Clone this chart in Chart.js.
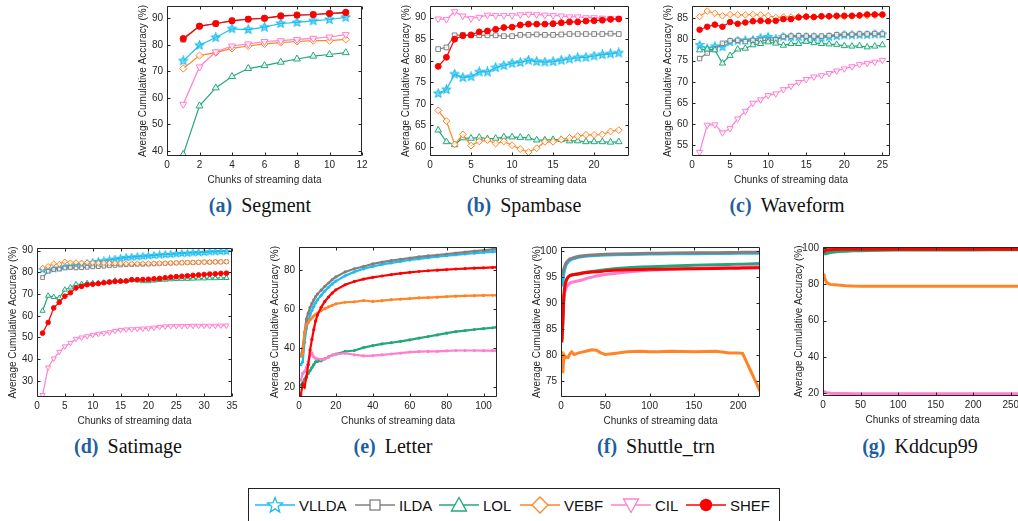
<!DOCTYPE html>
<html>
<head>
<meta charset="utf-8">
<script src="https://cdn.jsdelivr.net/npm/chart.js@4.4.1/dist/chart.umd.min.js"></script>
<style>
  html, body { margin: 0; padding: 0; background: #fff; }
  body { width: 1018px; height: 521px; overflow: hidden; position: relative; }
  canvas { position: absolute; }
  .cap { position: absolute; font-family: "Liberation Serif", "Times New Roman", serif; font-size: 20px; line-height: 24px; color: #111; white-space: nowrap; transform: translateX(-50%); }
  .cap b { color: #1f5f9f; margin-right: 9px; }
  #legend { position: absolute; left: 248px; top: 488px; width: 532px; height: 34px; border: 1px solid #222; box-sizing: border-box; font-family: "Liberation Sans", Arial, sans-serif; font-size: 15px; color: #111; }
  #legend .item { position: absolute; top: 6px; height: 20px; display: flex; align-items: center; }
  #legend svg { display: block; }
  #legend span { margin-left: 4px; }
</style>
</head>
<body>
<div id="legend"></div>
<script>
// ---- series names / colours ----
const methods = ["VLLDA", "ILDA", "LOL", "VEBF", "CIL", "SHEF"];
const colors = ["#1CBDF0", "#808080", "#22A878", "#FF8426", "#FF7FCF", "#FF0000"];

// ---- (a) Segment ----
const segChunks = [1, 2, 3, 4, 5, 6, 7, 8, 9, 10, 11];
const segVLLDA = [74.0, 79.9, 82.8, 86.1, 85.8, 86.7, 88.1, 88.5, 89.1, 89.6, 90.4];
const segILDA  = [82.0, 87.0, 88.0, 89.2, 89.8, 90.0, 90.8, 91.2, 91.4, 91.8, 92.0];
const segLOL   = [38.7, 57.0, 63.8, 68.1, 71.1, 72.2, 73.5, 74.7, 75.8, 76.4, 77.1];
const segVEBF  = [71.1, 76.0, 77.1, 78.7, 79.6, 80.4, 80.9, 81.3, 81.6, 81.6, 82.1];
const segCIL   = [57.6, 71.7, 77.4, 79.6, 80.4, 81.3, 81.6, 82.1, 82.5, 83.0, 83.9];
const segSHEF  = [82.4, 87.1, 88.1, 89.1, 89.7, 90.1, 91.0, 91.3, 91.5, 91.9, 92.3];
const segXTicks = [0, 2, 4, 6, 8, 10, 12];
const segYTicks = [40, 50, 60, 70, 80, 90];

// ---- (b) Spambase ----
const spamChunks = [1, 2, 3, 4, 5, 6, 7, 8, 9, 10, 11, 12, 13, 14, 15, 16, 17, 18, 19, 20, 21, 22, 23];
const spamVLLDA = [72.4, 73.3, 76.9, 76.1, 76.3, 77.4, 77.4, 78.4, 78.9, 79.4, 79.6, 80.1, 79.8, 79.7, 79.8, 80.1, 80.4, 80.7, 80.8, 81.1, 81.4, 81.6, 81.8];
const spamILDA  = [82.7, 83.1, 85.9, 86.0, 85.9, 85.9, 85.9, 85.9, 85.7, 85.7, 86.0, 86.0, 86.1, 86.0, 86.0, 86.1, 86.2, 86.2, 86.2, 86.2, 86.2, 86.3, 86.2];
const spamLOL   = [63.9, 61.2, 60.5, 62.1, 62.0, 62.2, 61.9, 62.0, 62.3, 62.3, 62.2, 62.1, 61.6, 61.6, 61.7, 61.7, 61.4, 61.4, 61.2, 61.2, 61.2, 61.1, 61.2];
const spamVEBF  = [68.5, 66.0, 60.6, 62.9, 60.3, 61.3, 61.6, 60.8, 61.3, 60.4, 59.5, 58.8, 59.7, 61.2, 61.2, 61.7, 62.1, 62.5, 62.8, 62.8, 62.9, 63.6, 63.9];
const spamCIL   = [89.7, 89.6, 91.4, 90.4, 89.8, 90.1, 90.6, 90.5, 90.5, 90.5, 90.7, 90.8, 90.7, 90.6, 90.5, 90.4, 90.2, 90.2, 90.0, 90.0, 89.9, 89.8, 89.8];
const spamSHEF  = [78.7, 80.8, 85.0, 85.8, 86.0, 86.7, 86.9, 87.3, 87.7, 87.8, 88.3, 88.5, 88.5, 88.5, 88.6, 88.8, 89.0, 89.0, 89.2, 89.3, 89.4, 89.6, 89.7];
const spamXTicks = [0, 5, 10, 15, 20];
const spamYTicks = [60, 65, 70, 75, 80, 85, 90];

// ---- (c) Waveform ----
const waveChunks = [1, 2, 3, 4, 5, 6, 7, 8, 9, 10, 11, 12, 13, 14, 15, 16, 17, 18, 19, 20, 21, 22, 23, 24, 25];
const waveVLLDA = [78.7, 77.9, 78.4, 78.2, 79.4, 79.7, 79.8, 79.9, 80.4, 80.6, 80.2, 80.6, 80.6, 80.6, 80.6, 80.5, 80.4, 80.6, 80.8, 81.0, 81.0, 81.1, 81.1, 81.2, 81.2];
const waveILDA  = [75.5, 76.8, 77.7, 79.1, 79.7, 79.8, 79.5, 79.8, 79.8, 79.8, 79.9, 80.7, 80.8, 80.9, 80.8, 80.8, 80.8, 80.9, 81.1, 81.2, 81.2, 81.3, 81.3, 81.4, 81.3];
const waveLOL   = [77.5, 77.7, 77.5, 74.4, 76.2, 77.7, 77.9, 78.7, 79.0, 79.4, 79.1, 78.6, 79.0, 79.0, 79.5, 79.2, 79.0, 78.9, 78.8, 78.5, 78.4, 78.5, 78.2, 78.4, 78.7];
const waveVEBF  = [85.4, 86.7, 86.2, 85.6, 85.9, 85.8, 85.8, 85.9, 85.8, 85.6, 85.2, 85.3, 85.3, 85.4, 85.4, 85.3, 85.4, 85.4, 85.4, 85.4, 85.5, 85.6, 85.6, 85.7, 85.7];
const waveCIL   = [53.4, 59.8, 59.9, 58.0, 59.0, 61.3, 63.1, 65.0, 65.8, 66.8, 67.2, 68.2, 69.0, 69.9, 70.6, 71.2, 71.5, 72.0, 72.6, 73.1, 73.6, 74.1, 74.4, 74.7, 75.1];
const waveSHEF  = [82.3, 83.0, 83.5, 83.0, 84.1, 83.7, 84.0, 84.3, 84.4, 84.3, 84.4, 84.8, 84.8, 85.2, 85.4, 85.3, 85.5, 85.5, 85.6, 85.6, 85.6, 85.7, 85.9, 85.9, 85.9];
const waveXTicks = [0, 5, 10, 15, 20, 25];
const waveYTicks = [55, 60, 65, 70, 75, 80, 85];

// ---- (d) Satimage ----
const satChunks = [1, 2, 3, 4, 5, 6, 7, 8, 9, 10, 11, 12, 13, 14, 15, 16, 17, 18, 19, 20, 21, 22, 23, 24, 25, 26, 27, 28, 29, 30, 31, 32, 33, 34];
const satVLLDA = [81.2, 81.0, 81.6, 82.0, 82.6, 83.0, 83.4, 83.8, 84.2, 84.6, 85.0, 85.3, 85.7, 86.1, 86.5, 86.8, 87.0, 87.2, 87.4, 87.6, 87.8, 88.0, 88.2, 88.3, 88.5, 88.7, 88.8, 89.0, 89.1, 89.2, 89.4, 89.5, 89.6, 89.7];
const satILDA  = [77.6, 80.5, 81.3, 81.5, 82.0, 82.2, 82.0, 82.1, 82.3, 82.5, 82.6, 82.8, 83.0, 83.2, 83.4, 83.5, 83.6, 83.7, 83.7, 83.8, 83.9, 84.0, 84.1, 84.2, 84.3, 84.4, 84.5, 84.5, 84.6, 84.7, 84.7, 84.8, 84.8, 84.9];
const satLOL   = [62.3, 69.2, 68.6, 68.2, 72.0, 73.0, 74.5, 74.6, 75.0, 75.0, 75.1, 75.3, 75.5, 76.2, 76.0, 76.0, 76.4, 76.3, 75.9, 75.9, 76.2, 76.5, 76.6, 76.8, 76.9, 77.0, 77.0, 77.1, 77.2, 77.2, 77.3, 77.3, 77.4, 77.4];
const satVEBF  = [82.0, 82.8, 84.0, 83.8, 84.9, 84.5, 84.6, 84.4, 84.5, 84.4, 84.3, 84.3, 84.2, 84.2, 84.1, 84.0, 84.0, 84.0, 84.1, 84.1, 84.1, 84.2, 84.2, 84.3, 84.4, 84.4, 84.5, 84.5, 84.6, 84.7, 84.7, 84.8, 84.8, 84.9];
const satCIL   = [23.5, 36.2, 40.3, 43.4, 45.9, 47.5, 49.4, 50.0, 50.6, 51.2, 51.7, 52.0, 52.4, 53.0, 53.5, 53.7, 53.8, 54.0, 54.1, 54.2, 54.5, 54.9, 55.1, 55.2, 55.3, 55.3, 55.3, 55.4, 55.4, 55.4, 55.4, 55.4, 55.5, 55.5];
const satSHEF  = [52.0, 56.9, 63.6, 66.2, 69.0, 70.6, 72.8, 73.5, 74.3, 74.5, 74.8, 75.2, 75.5, 75.8, 75.9, 76.0, 76.6, 76.6, 76.7, 76.8, 77.0, 77.2, 77.5, 77.8, 78.0, 78.2, 78.4, 78.6, 78.8, 79.0, 79.2, 79.3, 79.5, 79.6];
const satXTicks = [0, 5, 10, 15, 20, 25, 30, 35];
const satYTicks = [30, 40, 50, 60, 70, 80, 90];

// ---- (e) Letter (read at these chunks) ----
const letChunks = [1, 2, 3, 4, 5, 6, 7, 8, 9, 10, 12, 14, 16, 18, 20, 25, 30, 35, 40, 45, 50, 55, 60, 65, 70, 75, 80, 85, 90, 95, 100, 105, 107];
const letVLLDA = [31.5, 33.0, 43.0, 50.0, 54.0, 57.0, 59.5, 61.5, 63.3, 64.8, 67.2, 69.4, 71.3, 73.0, 74.5, 77.2, 79.2, 80.8, 82.0, 83.0, 83.8, 84.6, 85.3, 85.9, 86.5, 87.0, 87.5, 88.0, 88.4, 88.8, 89.2, 89.5, 89.7];
const letILDA  = [36.0, 40.0, 48.0, 55.0, 58.0, 61.0, 63.0, 64.8, 66.5, 67.8, 69.8, 71.8, 73.5, 75.2, 76.6, 79.2, 80.8, 82.0, 83.3, 84.2, 85.0, 85.7, 86.3, 86.9, 87.4, 87.9, 88.4, 88.9, 89.4, 89.9, 90.3, 90.8, 91.0];
const letLOL   = [21.0, 22.0, 24.0, 25.5, 27.0, 28.5, 30.0, 31.5, 33.0, 33.2, 33.5, 34.5, 35.5, 36.5, 37.0, 38.3, 38.8, 40.3, 41.3, 42.2, 42.8, 43.5, 44.3, 45.2, 46.0, 46.8, 47.7, 48.5, 49.0, 49.6, 50.0, 50.5, 50.8];
const letVEBF  = [36.0, 37.0, 48.0, 52.0, 53.2, 54.5, 55.5, 56.5, 57.3, 58.0, 59.3, 60.3, 61.2, 62.0, 62.8, 63.6, 63.8, 64.5, 64.0, 64.4, 64.9, 65.2, 65.5, 65.8, 66.0, 66.2, 66.5, 66.7, 66.9, 67.0, 67.1, 67.2, 67.2];
const letCIL   = [23.5, 27.0, 28.0, 30.0, 33.0, 36.0, 37.5, 35.5, 34.8, 34.5, 34.2, 34.5, 35.5, 36.3, 36.8, 37.4, 36.6, 36.0, 36.2, 36.6, 37.0, 37.5, 38.0, 38.2, 38.3, 38.4, 38.6, 38.8, 38.8, 38.8, 38.7, 38.7, 38.7];
const letSHEF  = [16.0, 21.5, 20.0, 25.0, 31.5, 39.0, 44.5, 49.5, 54.0, 57.0, 61.0, 64.0, 66.3, 68.3, 70.0, 72.6, 74.3, 75.5, 76.4, 77.1, 77.8, 78.4, 79.0, 79.4, 79.8, 80.1, 80.4, 80.7, 80.9, 81.1, 81.3, 81.5, 81.6];
const letXTicks = [0, 20, 40, 60, 80, 100];
const letYTicks = [20, 40, 60, 80];

// ---- (f) Shuttle_trn (read at these chunks) ----
const shuChunks = [1, 2, 3, 4, 5, 6, 8, 10, 12, 15, 20, 25, 30, 35, 40, 45, 50, 60, 75, 90, 100, 110, 125, 150, 175, 190, 200, 205, 225];
const shuVLLDA = [93.2, 94.0, 95.5, 96.3, 97.0, 97.4, 97.9, 98.2, 98.4, 98.6, 98.8, 98.95, 99.05, 99.1, 99.15, 99.2, 99.25, 99.3, 99.35, 99.4, 99.45, 99.45, 99.5, 99.5, 99.55, 99.55, 99.6, 99.6, 99.6];
const shuILDA  = [96.0, 95.8, 96.5, 97.0, 97.5, 97.8, 98.2, 98.5, 98.6, 98.8, 99.0, 99.1, 99.2, 99.25, 99.3, 99.35, 99.4, 99.45, 99.5, 99.55, 99.6, 99.6, 99.65, 99.7, 99.7, 99.75, 99.75, 99.8, 99.8];
const shuLOL   = [83.0, 86.0, 90.0, 92.5, 94.0, 94.5, 95.0, 95.3, 95.4, 95.5, 95.7, 95.85, 96.0, 96.1, 96.2, 96.3, 96.4, 96.6, 96.8, 96.95, 97.0, 97.05, 97.15, 97.3, 97.4, 97.45, 97.5, 97.5, 97.6];
const shuVEBF  = [80.7, 76.5, 79.0, 79.8, 79.5, 79.6, 79.5, 80.2, 80.6, 80.1, 80.4, 80.6, 80.8, 81.0, 80.9, 80.4, 80.1, 80.3, 80.6, 80.7, 80.6, 80.6, 80.7, 80.6, 80.7, 80.4, 80.4, 80.3, 72.9];
const shuCIL   = [86.2, 88.5, 91.0, 92.0, 92.5, 93.0, 93.5, 93.8, 94.0, 94.1, 94.3, 94.5, 94.8, 95.0, 95.2, 95.35, 95.5, 95.7, 96.0, 96.2, 96.3, 96.4, 96.5, 96.7, 96.85, 96.9, 97.0, 97.0, 97.1];
const shuSHEF  = [82.4, 86.0, 91.0, 92.8, 93.8, 94.4, 95.0, 95.3, 95.4, 95.5, 95.6, 95.8, 95.9, 96.0, 96.05, 96.1, 96.2, 96.3, 96.4, 96.45, 96.5, 96.5, 96.55, 96.6, 96.65, 96.7, 96.7, 96.75, 96.8];
const shuXTicks = [0, 50, 100, 150, 200];
const shuYTicks = [75, 80, 85, 90, 95, 100];

// ---- (g) Kddcup99 (read at these chunks) ----
const kddChunks = [1, 2, 3, 5, 8, 10, 15, 20, 30, 40, 50, 60, 80, 100, 120, 150, 180, 200, 230, 265];
const kddVLLDA = [99.3, 99.5, 99.6, 99.7, 99.7, 99.7, 99.7, 99.7, 99.7, 99.7, 99.7, 99.7, 99.7, 99.7, 99.7, 99.7, 99.7, 99.7, 99.7, 99.7];
const kddILDA  = [99.6, 99.7, 99.8, 99.85, 99.9, 99.9, 99.9, 99.9, 99.9, 99.9, 99.9, 99.9, 99.9, 99.9, 99.9, 99.9, 99.9, 99.9, 99.9, 99.9];
const kddLOL   = [97.5, 97.2, 96.8, 97.0, 97.4, 97.6, 97.9, 98.1, 98.3, 98.5, 98.6, 98.7, 98.8, 98.9, 98.9, 99.0, 99.0, 99.0, 99.1, 99.1];
const kddVEBF  = [86.0, 84.0, 82.5, 81.0, 80.3, 80.0, 79.8, 79.6, 79.3, 79.1, 79.0, 79.0, 79.0, 79.0, 79.0, 79.0, 79.0, 79.0, 79.0, 79.0];
const kddCIL   = [20.6, 20.8, 20.5, 20.3, 20.1, 20.0, 19.9, 19.9, 19.9, 19.8, 19.8, 19.8, 19.8, 19.8, 19.8, 19.8, 19.8, 19.8, 19.8, 19.8];
const kddSHEF  = [97.8, 98.2, 98.5, 98.8, 99.0, 99.1, 99.2, 99.3, 99.3, 99.35, 99.4, 99.4, 99.4, 99.4, 99.4, 99.4, 99.4, 99.4, 99.4, 99.4];
const kddXTicks = [0, 50, 100, 150, 200, 250];
const kddYTicks = [20, 40, 60, 80, 100];

// ---- layout of the panels (plot-area box in page pixels) ----
const panels = [
  { cap: "a", name: "Segment",     capX: 260, capY: 193, box: [167, 6, 362, 156],   x: [0, 12],    y: [38.1, 94.7],  xt: segXTicks,  yt: segYTicks,  chunks: segChunks,  series: [segVLLDA, segILDA, segLOL, segVEBF, segCIL, segSHEF], look: "marker", mk: 1 },
  { cap: "b", name: "Spambase",    capX: 524, capY: 193, box: [430, 6, 629, 156],   x: [0, 24.25], y: [57.9, 92.7],  xt: spamXTicks, yt: spamYTicks, chunks: spamChunks, series: [spamVLLDA, spamILDA, spamLOL, spamVEBF, spamCIL, spamSHEF], look: "marker", mk: 0.95 },
  { cap: "c", name: "Waveform",    capX: 787, capY: 193, box: [692, 6, 890, 156],   x: [0, 26],    y: [52.5, 87.9],  xt: waveXTicks, yt: waveYTicks, chunks: waveChunks, series: [waveVLLDA, waveILDA, waveLOL, waveVEBF, waveCIL, waveSHEF], look: "marker", mk: 0.9 },
  { cap: "d", name: "Satimage",    capX: 128, capY: 434, box: [37, 248, 232, 397],  x: [0, 35],    y: [22.6, 91.2],  xt: satXTicks,  yt: satYTicks,  chunks: satChunks,  series: [satVLLDA, satILDA, satLOL, satVEBF, satCIL, satSHEF], look: "marker", mk: 0.75 },
  { cap: "e", name: "Letter",      capX: 393, capY: 434, box: [299, 247, 497, 397], x: [0, 107.3], y: [14.9, 92],    xt: letXTicks,  yt: letYTicks,  chunks: letChunks,  series: [letVLLDA, letILDA, letLOL, letVEBF, letCIL, letSHEF], look: "dense", mk: 1 },
  { cap: "f", name: "Shuttle_trn", capX: 656, capY: 434, box: [561, 247, 760, 397], x: [0, 224.6], y: [71.9, 100.8], xt: shuXTicks,  yt: shuYTicks,  chunks: shuChunks,  series: [shuVLLDA, shuILDA, shuLOL, shuVEBF, shuCIL, shuSHEF], look: "thick", mk: 1 },
  { cap: "g", name: "Kddcup99",    capX: 920, capY: 434, box: [823, 247, 1022, 396], x: [0, 265],   y: [18.5, 100.6], xt: kddXTicks,  yt: kddYTicks,  chunks: kddChunks,  series: [kddVLLDA, kddILDA, kddLOL, kddVEBF, kddCIL, kddSHEF], look: "thick", mk: 1 }
];

const axisFont = { family: "'Liberation Sans', Arial, sans-serif", size: 10 };
const axisColor = "#262626";

function starPoints(cx, cy, r, ri) {
  const pts = [];
  for (let i = 0; i < 10; i++) {
    const a = -Math.PI / 2 + i * Math.PI / 5;
    const rr = i % 2 ? ri : r;
    pts.push([cx + rr * Math.cos(a), cy + rr * Math.sin(a)]);
  }
  return pts;
}

function starImage(size, stroke, fill) {
  const c = document.createElement("canvas");
  c.width = c.height = size;
  const g = c.getContext("2d");
  g.beginPath();
  starPoints(size / 2, size / 2, size / 2 - 1, (size / 2 - 1) * 0.45).forEach(p => g.lineTo(p[0], p[1]));
  g.closePath();
  g.fillStyle = fill;
  g.fill();
  g.strokeStyle = stroke;
  g.lineWidth = 1.1;
  g.stroke();
  return c;
}

const stars = { 1: starImage(11, colors[0], "rgba(28,189,240,0.5)"), 0.95: starImage(11, colors[0], "rgba(28,189,240,0.5)"), 0.9: starImage(10, colors[0], "rgba(28,189,240,0.5)"), 0.75: starImage(9, colors[0], "rgba(28,189,240,0.5)") };

function dataset(i, p) {
  const ds = {
    label: methods[i],
    data: p.chunks.map((c, k) => ({ x: c, y: p.series[i][k] })),
    borderColor: colors[i],
    order: 6 - i,
    tension: 0
  };
  const k = p.mk;
  if (p.look === "marker") {
    ds.borderWidth = 1.2;
    ds.pointBorderWidth = 1;
    ds.pointBorderColor = colors[i];
    ds.pointBackgroundColor = "rgba(255,255,255,0.8)";
    if (i === 0) { ds.pointStyle = stars[k]; ds.pointRadius = 5; }
    if (i === 1) { ds.pointStyle = "rect"; ds.pointRadius = 3.5 * k; }
    if (i === 2) { ds.pointStyle = "triangle"; ds.pointRadius = 4 * k; }
    if (i === 3) { ds.pointStyle = "rectRot"; ds.pointRadius = 3.6 * k; }
    if (i === 4) { ds.pointStyle = "triangle"; ds.pointRadius = 4 * k; ds.pointRotation = 180; }
    if (i === 5) { ds.pointStyle = "circle"; ds.pointRadius = 3.1 * k; ds.pointBackgroundColor = colors[5]; }
  } else if (p.look === "dense") {
    ds.borderWidth = 2.2;
    ds.pointStyle = "circle";
    ds.pointRadius = 1.6;
    ds.pointBorderWidth = 0;
    ds.pointBackgroundColor = colors[i];
  } else {
    ds.borderWidth = 3;
    ds.pointRadius = 0;
  }
  return ds;
}

const boxPlugin = {
  id: "matlabBox",
  afterDatasetsDraw(chart) {
    const { ctx, chartArea: a, scales } = chart;
    const L = Math.round(a.left) + 0.5, R = Math.round(a.right) - 0.5;
    const T = Math.round(a.top) + 0.5, B = Math.round(a.bottom) - 0.5;
    ctx.save();
    ctx.strokeStyle = axisColor;
    ctx.lineWidth = 1;
    ctx.beginPath();
    ctx.rect(L, T, R - L, B - T);
    scales.x.ticks.forEach(t => {
      const px = Math.round(scales.x.getPixelForValue(t.value)) + 0.5;
      ctx.moveTo(px, B); ctx.lineTo(px, B - 3);
      ctx.moveTo(px, T); ctx.lineTo(px, T + 3);
    });
    scales.y.ticks.forEach(t => {
      const py = Math.round(scales.y.getPixelForValue(t.value)) + 0.5;
      ctx.moveTo(L, py); ctx.lineTo(L + 3, py);
      ctx.moveTo(R, py); ctx.lineTo(R - 3, py);
    });
    ctx.stroke();
    ctx.restore();
  }
};

const YW = 30, XH = 30, PT = 12, PR = 14;

panels.forEach(p => {
  const [l, t, r, b] = p.box;
  const cv = document.createElement("canvas");
  cv.width = (r - l) + YW + PR;
  cv.height = (b - t) + PT + XH;
  cv.style.left = (l - YW) + "px";
  cv.style.top = (t - PT) + "px";
  cv.style.width = cv.width + "px";
  cv.style.height = cv.height + "px";
  document.body.appendChild(cv);

  new Chart(cv, {
    type: "line",
    data: { datasets: methods.map((m, i) => dataset(i, p)) },
    options: {
      responsive: false,
      animation: false,
      devicePixelRatio: 1,
      layout: { padding: { top: PT, right: PR, left: 0, bottom: 0 } },
      plugins: { legend: { display: false }, tooltip: { enabled: false } },
      scales: {
        x: {
          type: "linear", min: p.x[0], max: p.x[1],
          grid: { display: false, drawTicks: false },
          border: { display: false },
          ticks: { font: axisFont, color: axisColor, padding: 3, maxRotation: 0, autoSkip: false },
          afterBuildTicks: s => { s.ticks = p.xt.map(v => ({ value: v })); },
          afterFit: s => { s.height = XH; },
          title: { display: true, text: "Chunks of streaming data", font: axisFont, color: axisColor, padding: 0 }
        },
        y: {
          type: "linear", min: p.y[0], max: p.y[1],
          grid: { display: false, drawTicks: false },
          border: { display: false },
          ticks: { font: axisFont, color: axisColor, padding: 4, autoSkip: false },
          afterBuildTicks: s => { s.ticks = p.yt.map(v => ({ value: v })); },
          afterFit: s => { s.width = YW; },
          title: { display: true, text: "Average Cumulative Accuracy (%)", font: axisFont, color: axisColor, padding: 0 }
        }
      }
    },
    plugins: [boxPlugin]
  });

  const cap = document.createElement("div");
  cap.className = "cap";
  cap.style.left = p.capX + "px";
  cap.style.top = p.capY + "px";
  cap.innerHTML = "<b>(" + p.cap + ")</b>" + p.name;
  document.body.appendChild(cap);
});

// ---- legend ----
const legendLeft = [6, 106, 190, 271, 362, 437];
function markerSvg(i) {
  const c = colors[i];
  let m = "";
  if (i === 0) m = '<polygon points="' + starPoints(20, 10.5, 8, 3.4).map(q => q[0].toFixed(1) + "," + q[1].toFixed(1)).join(" ") + '" fill="#fff" stroke="' + c + '" stroke-width="1.3"/>';
  if (i === 1) m = '<rect x="15" y="5" width="10" height="10" fill="#fff" stroke="' + c + '" stroke-width="1.3"/>';
  if (i === 2) m = '<polygon points="20,2.5 27.5,16 12.5,16" fill="#fff" stroke="' + c + '" stroke-width="1.3"/>';
  if (i === 3) m = '<polygon points="20,2 28,10 20,18 12,10" fill="#fff" stroke="' + c + '" stroke-width="1.3"/>';
  if (i === 4) m = '<polygon points="12.5,4 27.5,4 20,17.5" fill="#fff" stroke="' + c + '" stroke-width="1.3"/>';
  if (i === 5) m = '<circle cx="20" cy="10" r="6.2" fill="' + c + '"/>';
  return '<svg width="40" height="20"><line x1="0" y1="10" x2="40" y2="10" stroke="' + c + '" stroke-width="1.3"/>' + m + "</svg>";
}
const legend = document.getElementById("legend");
methods.forEach((m, i) => {
  const it = document.createElement("div");
  it.className = "item";
  it.style.left = legendLeft[i] + "px";
  it.innerHTML = markerSvg(i) + "<span>" + m + "</span>";
  legend.appendChild(it);
});
</script>
</body>
</html>
